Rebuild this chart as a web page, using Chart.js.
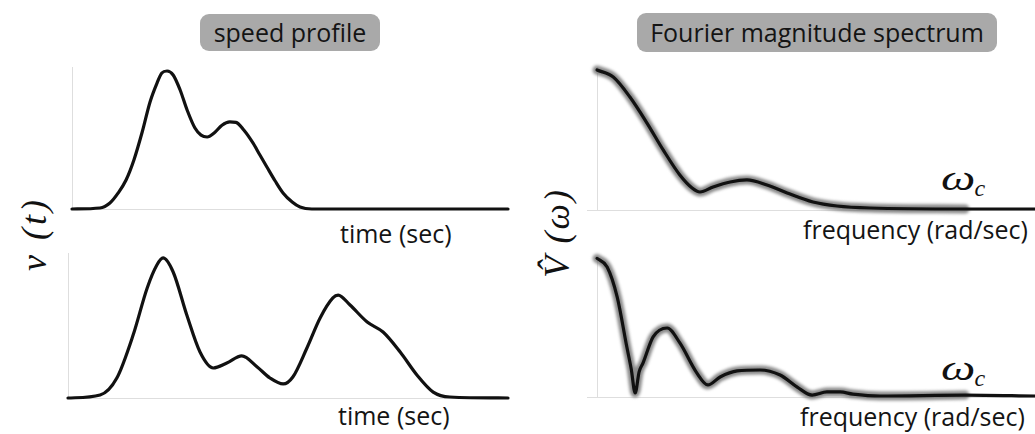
<!DOCTYPE html>
<html>
<head>
<meta charset="utf-8">
<script src="https://cdn.jsdelivr.net/npm/chart.js@4/dist/chart.umd.min.js"></script>
<style>
  html, body { margin: 0; padding: 0; background: #fff; width: 1035px; height: 434px; overflow: hidden; }
  canvas { position: absolute; }
  .tag  { position: absolute; background: #a9a9a9; border-radius: 9px; color: #141414;
          font-family: 'Open Sans', sans-serif; text-align: center; white-space: nowrap; }
  .lbl  { position: absolute; font-family: 'Open Sans', sans-serif; color: #141414;
          font-size: 25px; line-height: 1; white-space: nowrap; }
  .math { position: absolute; font-family: 'Liberation Serif', serif; font-style: italic;
          color: #111; line-height: 1; white-space: nowrap; }
  .omega { display: inline-block; transform: scaleX(1.35); transform-origin: left center; margin-right: 8px; }
  .rot  { transform: translate(-50%, -50%) rotate(-90deg); }
</style>
</head>
<body>

<div class="tag" style="left:200px;top:14px;width:180px;height:37px;line-height:37px;font-size:25px">speed profile</div>
<div class="tag" style="left:637px;top:13px;width:360px;height:39px;line-height:39px;font-size:25px">Fourier magnitude spectrum</div>

<div class="lbl" style="left:340px;top:221px">time (sec)</div>
<div class="lbl" style="left:338px;top:403px">time (sec)</div>
<div class="lbl" style="left:803px;top:217px">frequency (rad/sec)</div>
<div class="lbl" style="left:800px;top:404px">frequency (rad/sec)</div>

<div class="math" style="left:941px;top:160px;font-size:36px"><span class="omega">ω</span><span style="font-size:24px;vertical-align:-6px">c</span></div>
<div class="math" style="left:941px;top:350px;font-size:36px"><span class="omega">ω</span><span style="font-size:24px;vertical-align:-6px">c</span></div>

<div class="math rot" style="left:34px;top:234px;font-size:36px;letter-spacing:3px">v (t)</div>
<div class="math rot" style="left:557px;top:233px;font-size:36px;letter-spacing:2px">V̂ (ω)</div>

<canvas id="c-speed-1"></canvas>
<canvas id="c-speed-2"></canvas>
<canvas id="c-freq-1"></canvas>
<canvas id="c-freq-2"></canvas>

<script>
// ─── DADOS (eixos normalizados 0..100) ───────────────────────────────────
const speed1T = [0, 6.4, 8.7, 10.6, 12.4, 14.2, 16.1, 17.9, 19.5, 20.6, 21.8, 23.2, 24.8, 26.4, 28.2, 29.6, 31.0, 32.6, 34.4, 36.2, 37.6, 39.4, 41.5, 43.1, 44.7, 46.6, 48.4, 50.5, 52.3, 55, 100];
const speed1V = [0, 0.7, 4.2, 11.3, 20.4, 34.5, 54.2, 75.4, 88.7, 95.8, 97.2, 94.4, 83.8, 69.7, 57, 52, 50.7, 53.5, 59, 61.3, 61, 55.6, 46.5, 38, 29.6, 19.7, 11.3, 4.9, 1.4, 0, 0];

const speed2T = [0, 7.3, 11.1, 14.8, 18.0, 20.2, 21.6, 23.9, 27.0, 30.0, 33.0, 36.1, 39.5, 43.0, 45.9, 48.9, 51.1, 54.3, 57.3, 60.2, 61.4, 64.1, 68.0, 71.6, 75.5, 79.3, 83.0, 86.8, 100];
const speed2V = [0, 2.1, 13.8, 43.4, 75.9, 91.7, 96.6, 86.9, 57.2, 31.7, 20.7, 24.1, 29, 21.4, 13.8, 9.7, 14.5, 34.5, 55.2, 69, 71, 64.1, 52.4, 45.5, 31.7, 15.9, 4.1, 0.7, 0];

const freq1W = [0, 3.7, 7.5, 11.4, 15.1, 18.9, 21.7, 23.5, 26.5, 30.4, 34.2, 38.8, 43.4, 49.3, 54.8, 62.3, 84, 100];
const freq1M = [97.9, 93, 79, 60.8, 42, 24.5, 15.4, 12.6, 16.1, 19.6, 21, 17.5, 11.9, 5.6, 2.8, 1.4, 0.7, 0.7];

const freq2W = [0, 2.3, 4.6, 6.8, 7.8, 8.7, 9.6, 10.5, 12.8, 16, 18.9, 22.8, 25.3, 28.1, 32, 37.2, 41.8, 45.7, 49.1, 52.5, 55.5, 58.4, 64.6, 84, 100];
const freq2M = [99, 92.9, 71.4, 35.7, 20, 2.9, 18, 24.3, 42.9, 49.3, 38.6, 17.1, 8.6, 14.3, 18.6, 19.3, 15.7, 7.1, 1.4, 3.6, 3.6, 2.1, 0.7, 1.4, 0.7];

const haloEnd = 84;   // o contorno cinza termina aqui (ω_c)

const PAD = 12;

// ─── HELPERS ────────────────────────────────────────────────────────────
const pts = (xs, ys) => xs.map((x, i) => ({ x, y: ys[i] }));

// desfoque no traço cinza do espectro
const haloPlugin = {
  id: 'halo',
  beforeDatasetDraw(chart, args) {
    if (chart.data.datasets[args.index].halo) {
      chart.ctx.save();
      chart.ctx.filter = 'blur(1.6px)';
    }
  },
  afterDatasetDraw(chart, args) {
    if (chart.data.datasets[args.index].halo) chart.ctx.restore();
  },
};

function makePanel(id, area, xMin, xs, ys, withHalo) {
  const canvas = document.getElementById(id);
  canvas.width  = area.w + PAD * 2;
  canvas.height = area.h + PAD * 2;
  canvas.style.left = (area.x - PAD) + 'px';
  canvas.style.top  = (area.y - PAD) + 'px';

  const datasets = [{
    data: pts(xs, ys),
    borderColor: '#111',
    borderWidth: 3.2,
    clip: false,
  }];
  if (withHalo) {
    const n = xs.filter(x => x <= haloEnd).length;
    datasets.push({
      data: pts(xs.slice(0, n), ys.slice(0, n)),
      borderColor: 'rgba(110,110,110,0.8)',
      borderWidth: 9,
      halo: true,
      clip: false,
    });
  }

  return new Chart(canvas, {
    type: 'line',
    data: { datasets },
    options: {
      responsive: false,
      animation: false,
      events: [],
      layout: { padding: PAD },
      plugins: { legend: { display: false }, tooltip: { enabled: false } },
      elements: {
        point: { radius: 0 },
        line: { cubicInterpolationMode: 'monotone', borderCapStyle: 'round', borderJoinStyle: 'round' },
      },
      scales: {
        x: {
          type: 'linear', min: xMin, max: 100,
          ticks: { display: false },
          grid: { color: '#dedede', lineWidth: 1, drawTicks: false },
          border: { display: true, color: '#dedede', width: 1 },
          afterBuildTicks: s => { s.ticks = [{ value: 0 }]; },
        },
        y: { type: 'linear', min: 0, max: 100, display: false },
      },
    },
    plugins: [haloPlugin],
  });
}

// área útil de cada painel (px) — left, top, width, height
makePanel('c-speed-1', { x: 72,  y: 67,  w: 436, h: 142 }, 0,    speed1T, speed1V, false);
makePanel('c-speed-2', { x: 68,  y: 253, w: 440, h: 145 }, 0,    speed2T, speed2V, false);
makePanel('c-freq-1',  { x: 587, y: 67,  w: 448, h: 143 }, -2.3, freq1W,  freq1M,  true);
makePanel('c-freq-2',  { x: 587, y: 257, w: 448, h: 140 }, -2.3, freq2W,  freq2M,  true);
</script>
</body>
</html>
